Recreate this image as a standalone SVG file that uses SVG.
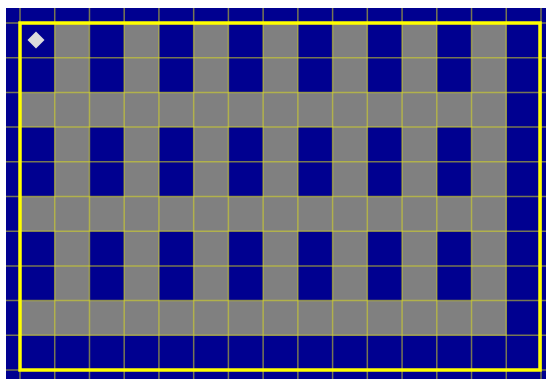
<svg xmlns="http://www.w3.org/2000/svg" width="546" height="379" viewBox="0 0 546 379">
  <style>
    .bg { fill: #000090; }
    .g { fill: #808080; }
    .grid { stroke: #d8d820; stroke-opacity: 0.55; stroke-width: 1.5; fill: none; }
    .border { stroke: #ffff00; stroke-width: 3.5; fill: none; }
    .marker { fill: #dcdcdc; }
  </style>
  <rect x="0" y="0" width="546" height="379" fill="#ffffff"/>
  <rect class="bg" x="6" y="8" width="540" height="371"/>
  <g id="gray-cells">
    <rect class="g" x="54.73" y="23" width="34.73" height="312.3"/>
    <rect class="g" x="124.2" y="23" width="34.73" height="312.3"/>
    <rect class="g" x="193.67" y="23" width="34.73" height="312.3"/>
    <rect class="g" x="263.13" y="23" width="34.73" height="312.3"/>
    <rect class="g" x="332.6" y="23" width="34.73" height="312.3"/>
    <rect class="g" x="402.07" y="23" width="34.73" height="312.3"/>
    <rect class="g" x="471.53" y="23" width="34.73" height="312.3"/>
    <rect class="g" x="20" y="92.4" width="486.27" height="34.7"/>
    <rect class="g" x="20" y="196.5" width="486.27" height="34.7"/>
    <rect class="g" x="20" y="300.6" width="486.27" height="34.7"/>
  </g>
  <g id="grid">
    <path class="grid" d="M20 8V379M54.73 8V379M89.47 8V379M124.2 8V379M158.93 8V379M193.67 8V379M228.4 8V379M263.13 8V379M297.87 8V379M332.6 8V379M367.33 8V379M402.07 8V379M436.8 8V379M471.53 8V379M506.27 8V379M541 8V379"/>
    <path class="grid" d="M6 23H546M6 57.7H546M6 92.4H546M6 127.1H546M6 161.8H546M6 196.5H546M6 231.2H546M6 265.9H546M6 300.6H546M6 335.3H546M6 370H546"/>
  </g>
  <rect id="frame" class="border" x="20" y="23" width="520" height="347"/>
  <polygon id="start" class="marker" points="36,31.5 44.5,40 36,48.5 27.5,40"/>
</svg>
